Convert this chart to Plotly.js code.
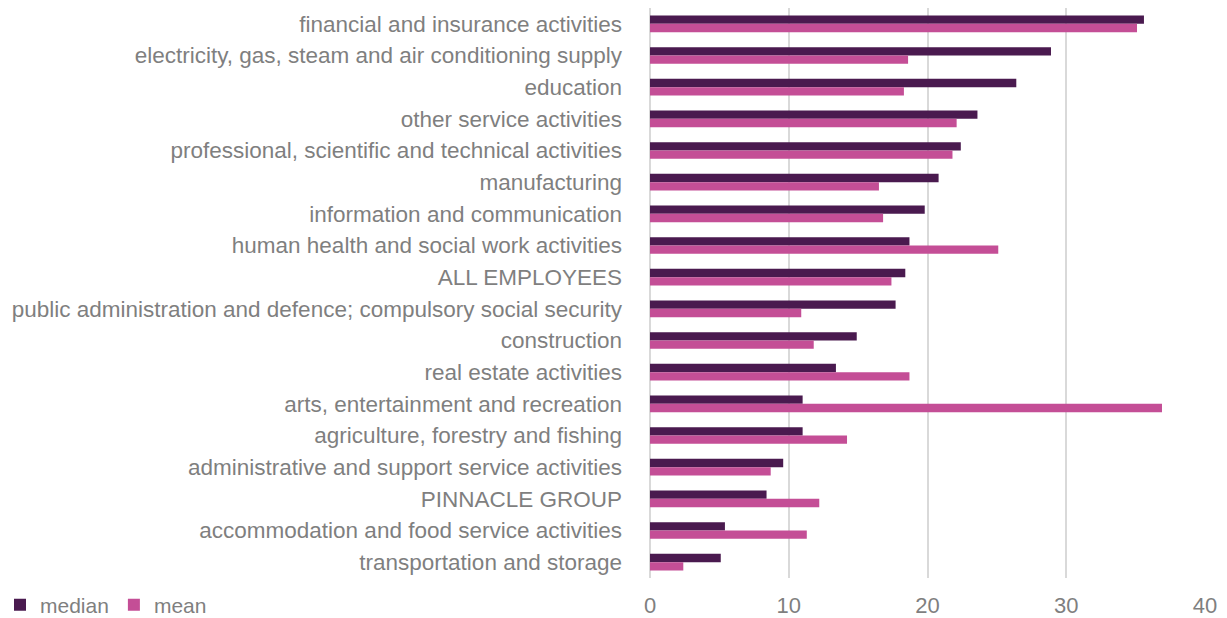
<!DOCTYPE html>
<html>
<head>
<meta charset="utf-8">
<script src="https://cdn.plot.ly/plotly-3.0.1.min.js"></script>
<style>html,body{margin:0;padding:0;background:#fff;}#chart{width:1227px;height:618px;}</style>
</head>
<body>
<div id="chart"></div>
<script>
const categories = [
  "financial and insurance activities",
  "electricity, gas, steam and air conditioning supply",
  "education",
  "other service activities",
  "professional, scientific and technical activities",
  "manufacturing",
  "information and communication",
  "human health and social work activities",
  "ALL EMPLOYEES",
  "public administration and defence; compulsory social security",
  "construction",
  "real estate activities",
  "arts, entertainment and recreation",
  "agriculture, forestry and fishing",
  "administrative and support service activities",
  "PINNACLE GROUP",
  "accommodation and food service activities",
  "transportation and storage"
];
const medianValues = [35.6, 28.9, 26.4, 23.6, 22.4, 20.8, 19.8, 18.7, 18.4, 17.7, 14.9, 13.4, 11.0, 11.0, 9.6, 8.4, 5.4, 5.1];
const meanValues   = [35.1, 18.6, 18.3, 22.1, 21.8, 16.5, 16.8, 25.1, 17.4, 10.9, 11.8, 18.7, 36.9, 14.2, 8.7, 12.2, 11.3, 2.4];
const xTicks = [0, 10, 20, 30, 40];

const fontFamily = "'Liberation Sans', Arial, sans-serif";
const textColor = "#7f7f7f";

const traces = [
  {type: "bar", orientation: "h", name: "median", y: categories, x: medianValues,
   marker: {color: "#4a1a4f"}, hoverinfo: "x+y"},
  {type: "bar", orientation: "h", name: "mean", y: categories, x: meanValues,
   marker: {color: "#c44e96"}, hoverinfo: "x+y"}
];

const layout = {
  width: 1227, height: 618,
  margin: {l: 650, r: 22, t: 8, b: 40},
  paper_bgcolor: "#ffffff", plot_bgcolor: "#ffffff",
  font: {family: fontFamily, size: 21, color: textColor},
  barmode: "group",
  bargap: 0.475,
  bargroupgap: 0,
  xaxis: {
    range: [0, 40], tickvals: xTicks, ticktext: xTicks.map(String),
    showgrid: true, gridcolor: "#d9d9d9", gridwidth: 2,
    zeroline: true, zerolinecolor: "#d9d9d9", zerolinewidth: 2,
    showline: false, ticks: "", ticklabelstandoff: 12,
    tickfont: {family: fontFamily, size: 22, color: textColor}, fixedrange: true
  },
  yaxis: {
    type: "category", autorange: "reversed",
    showgrid: false, zeroline: false, showline: false, ticks: "",
    ticklabelstandoff: 27,
    tickfont: {family: fontFamily, size: 22.5, color: textColor}, fixedrange: true
  },
  showlegend: true,
  legend: {
    orientation: "h", xref: "paper", yref: "container",
    x: -1.193, xanchor: "left", y: 0.021, yanchor: "middle",
    font: {family: fontFamily, size: 21, color: textColor},
    itemwidth: 30, tracegroupgap: 0, bgcolor: "rgba(0,0,0,0)"
  }
};

Plotly.newPlot("chart", traces, layout, {displayModeBar: false, staticPlot: true});
</script>
</body>
</html>
